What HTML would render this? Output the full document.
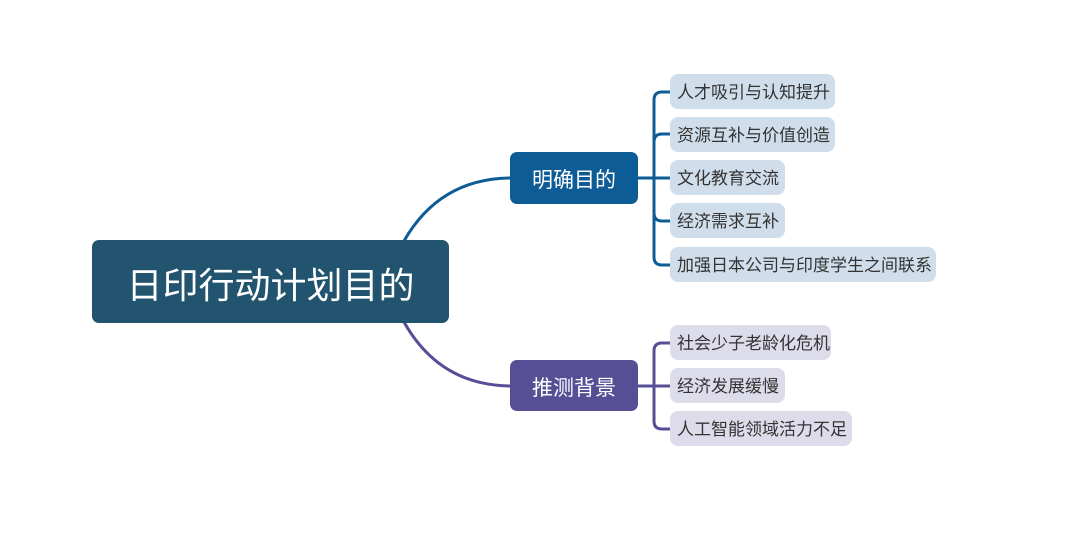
<!DOCTYPE html>
<html><head><meta charset="utf-8"><style>
body{margin:0;width:1080px;height:556px;background:#fff;position:relative;overflow:hidden;font-family:"Liberation Sans","Noto Sans CJK SC",sans-serif}
.b{position:absolute;display:flex;align-items:center;justify-content:center;color:#fff;border-radius:7px;padding-top:2px;box-sizing:border-box}
.l{position:absolute;height:35px;line-height:37px;border-radius:8px;font-size:17px;color:#333;padding-left:7px;box-sizing:border-box;white-space:nowrap}
.t{background:#cfdeea}.p{background:#dddcea}
</style></head><body>
<svg width="1080" height="556" style="position:absolute;left:0;top:0">
<g fill="none" stroke-width="3">
<path d="M404 241 Q440 178 512 178" stroke="#0d5c96"/>
<path d="M404 322 Q440 386 512 386" stroke="#564f96"/>
<path d="M638 178 H670 M670 92 H662 Q654 92 654 100 V257 Q654 265 662 265 H670 M670 134 H662 Q654 134 654 142 M670 221 H662 Q654 221 654 213" stroke="#0d5c96"/>
<path d="M638 386 H670 M670 343 H662 Q654 343 654 351 V421 Q654 429 662 429 H670" stroke="#564f96"/>
</g></svg>
<div class="b" style="left:92px;top:240px;width:357px;height:83px;background:#22546f;font-size:36px">日印行动计划目的</div>
<div class="b" style="left:510px;top:152px;width:128px;height:52px;background:#0d5c96;font-size:21px">明确目的</div>
<div class="b" style="left:510px;top:360px;width:128px;height:51px;background:#564f96;font-size:21px">推测背景</div>
<div class="l t" style="left:670px;top:74px;width:165px">人才吸引与认知提升</div>
<div class="l t" style="left:670px;top:117px;width:165px">资源互补与价值创造</div>
<div class="l t" style="left:670px;top:160px;width:115px">文化教育交流</div>
<div class="l t" style="left:670px;top:203px;width:115px">经济需求互补</div>
<div class="l t" style="left:670px;top:247px;width:266px">加强日本公司与印度学生之间联系</div>
<div class="l p" style="left:670px;top:325px;width:161px">社会少子老龄化危机</div>
<div class="l p" style="left:670px;top:368px;width:115px">经济发展缓慢</div>
<div class="l p" style="left:670px;top:411px;width:182px">人工智能领域活力不足</div>
</body></html>
